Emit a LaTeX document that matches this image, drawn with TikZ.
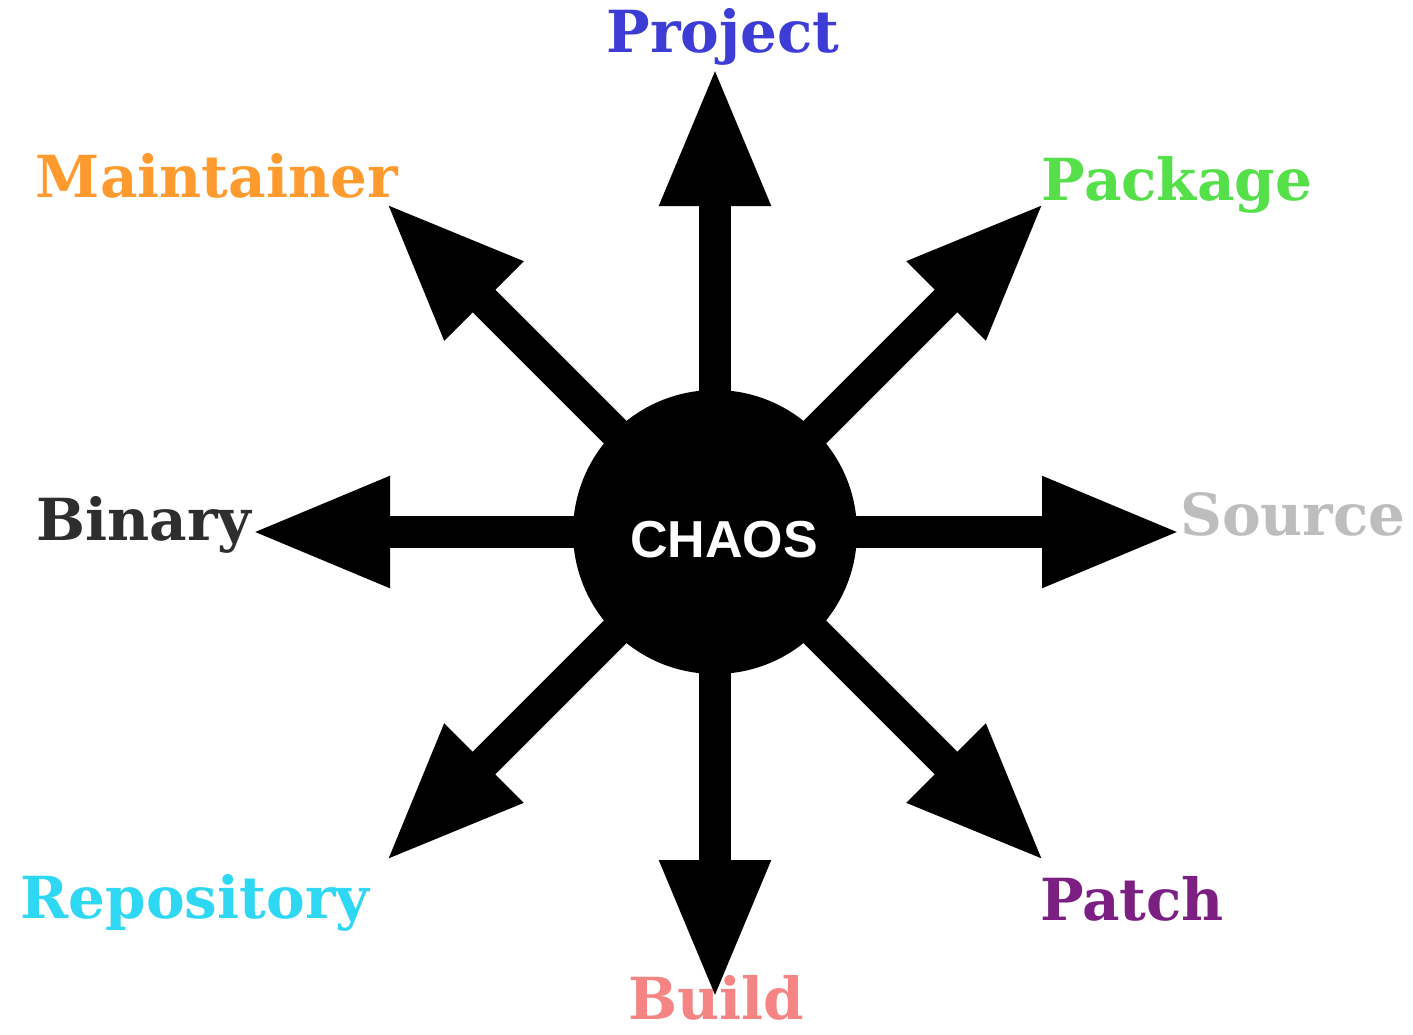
\documentclass[tikz,border=0pt]{standalone}
\usepackage{fontspec}
\usepackage{xcolor}
\usetikzlibrary{arrows.meta}
\setsansfont{Liberation Sans}
\newfontfamily\wordfont{DejaVu Serif}

\definecolor{projectcol}{HTML}{3D3DD6}
\definecolor{maintainercol}{HTML}{FF9A2E}
\definecolor{packagecol}{HTML}{55E04A}
\definecolor{binarycol}{HTML}{2E2E2E}
\definecolor{sourcecol}{HTML}{BDBDBD}
\definecolor{repositorycol}{HTML}{2ED8F2}
\definecolor{patchcol}{HTML}{7B2082}
\definecolor{buildcol}{HTML}{F58484}

\begin{document}
\begin{tikzpicture}[x=1pt, y=-1pt,
    spoke/.style={line width=32pt, -{Triangle[width=102pt, length=140pt]}},
    word/.style={anchor=base, inner sep=0pt, font=\wordfont\bfseries\fontsize{58}{60}\selectfont}]
    \useasboundingbox (0,0) rectangle (1413,1034);

    % labels round the hub
    \node[word, text=projectcol] (project) at (723,52) {Project};
    \node[word, text=maintainercol] (maintainer) at (217,197) {Maintainer};
    \node[word, text=packagecol] (package) at (1177,200) {Package};
    \node[word, text=binarycol] (binary) at (144,540) {Binary};
    \node[word, text=sourcecol] (source) at (1293,535) {Source};
    \node[word, text=repositorycol] (repository) at (195,918) {Repository};
    \node[word, text=patchcol] (patch) at (1132,920) {Patch};
    \node[word, text=buildcol] (build) at (716,1019) {Build};

    % arrow tips
    \coordinate (tipN) at (715,66);
    \coordinate (tipNE) at (1045,202);
    \coordinate (tipE) at (1182,532);
    \coordinate (tipSE) at (1045,862);
    \coordinate (tipS) at (715,1000);
    \coordinate (tipSW) at (385,862);
    \coordinate (tipW) at (250,532);
    \coordinate (tipNW) at (385,202);

    \coordinate (hub) at (715,532);
    \foreach \t in {tipN,tipNE,tipE,tipSE,tipS,tipSW,tipW,tipNW}
        \draw[spoke] (hub) -- (\t);

    \node[circle, fill=black, minimum size=284pt, inner sep=0pt] (chaos) at (hub) {};
    \node[text=white, font=\sffamily\bfseries\fontsize{52}{54}\selectfont] (chaostext) at (724,540) {CHAOS};
\end{tikzpicture}
\end{document}
